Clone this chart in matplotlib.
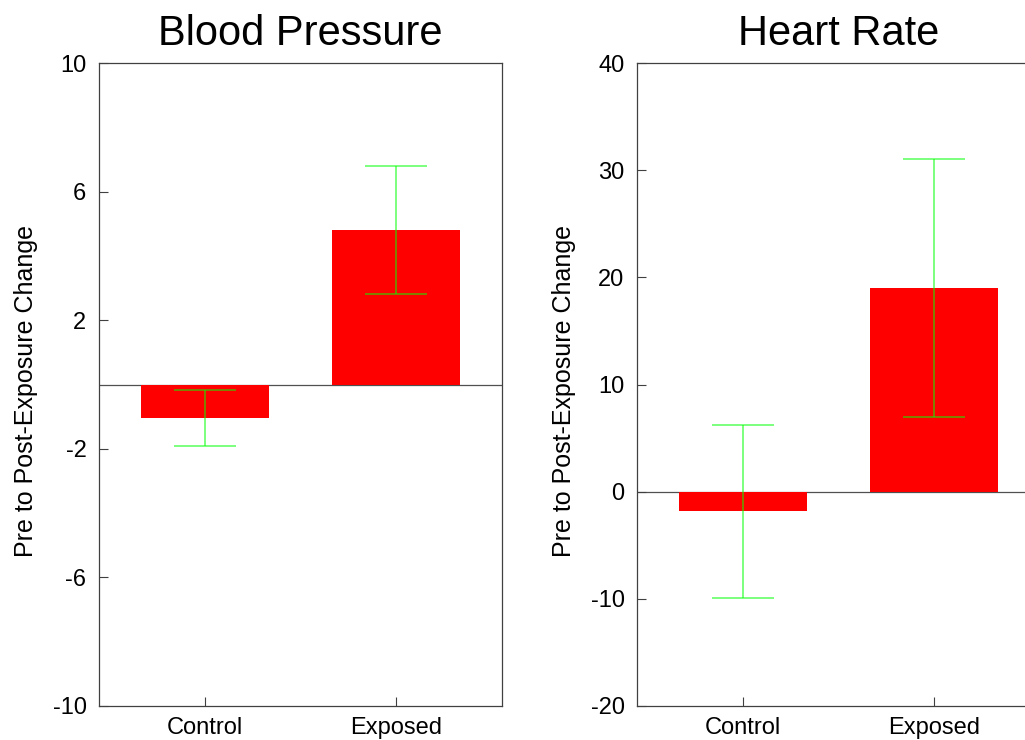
import matplotlib
matplotlib.use("Agg")
import matplotlib.pyplot as plt

plt.rcParams['font.family'] = ['Liberation Sans', 'DejaVu Sans']
plt.rcParams['axes.unicode_minus'] = False

categories = ["Control", "Exposed"]
bp_means = [-1.03, 4.8]
bp_errs = [0.87, 2.0]
hr_means = [-1.85, 19.0]
hr_errs = [8.05, 12.05]

titles = ["Blood Pressure", "Heart Rate"]
ylims = [(-10, 10), (-20, 40)]
yticks = [[-10, -6, -2, 2, 6, 10], [-20, -10, 0, 10, 20, 30, 40]]
ylabel = "Pre to Post-Exposure Change"

W, H = 1025, 740
fig = plt.figure(figsize=(W / 100, H / 100), dpi=100)

panels = [(bp_means, bp_errs), (hr_means, hr_errs)]
lefts = [99, 637]
axw, axb, axt = 403, 706, 63

spine_col = '#404040'
for i, (means, errs) in enumerate(panels):
    ax = fig.add_axes([lefts[i] / W, (H - axb) / H, axw / W, (axb - axt) / H])
    x = list(range(len(categories)))
    ax.axhline(0, color='#505050', lw=0.9, zorder=1)
    ax.bar(x, means, width=0.67, color='#ff0000', edgecolor='none', zorder=2)
    ax.errorbar(x, means, yerr=errs, fmt='none', ecolor='#00ff00', alpha=0.6,
                elinewidth=1.2, capsize=22, capthick=1.2, zorder=3)
    ax.set_xlim(-0.555, 1.555)
    ax.set_ylim(*ylims[i])
    ax.set_yticks(yticks[i])
    ax.set_xticks(x)
    ax.set_xticklabels(categories)
    ax.tick_params(direction='in', length=6.5, width=0.8, color=spine_col,
                   labelsize=17, top=False, right=False)
    ax.tick_params(axis='y', pad=9)
    ax.tick_params(axis='x', pad=8)
    for s in ax.spines.values():
        s.set_color(spine_col)
        s.set_linewidth(0.9)
    ax.set_title(titles[i], fontsize=30, pad=13)
    ax.set_ylabel(ylabel, fontsize=18)
    ax.yaxis.set_label_coords(-0.152, 0.49)

fig.savefig("out.png", dpi=100)
